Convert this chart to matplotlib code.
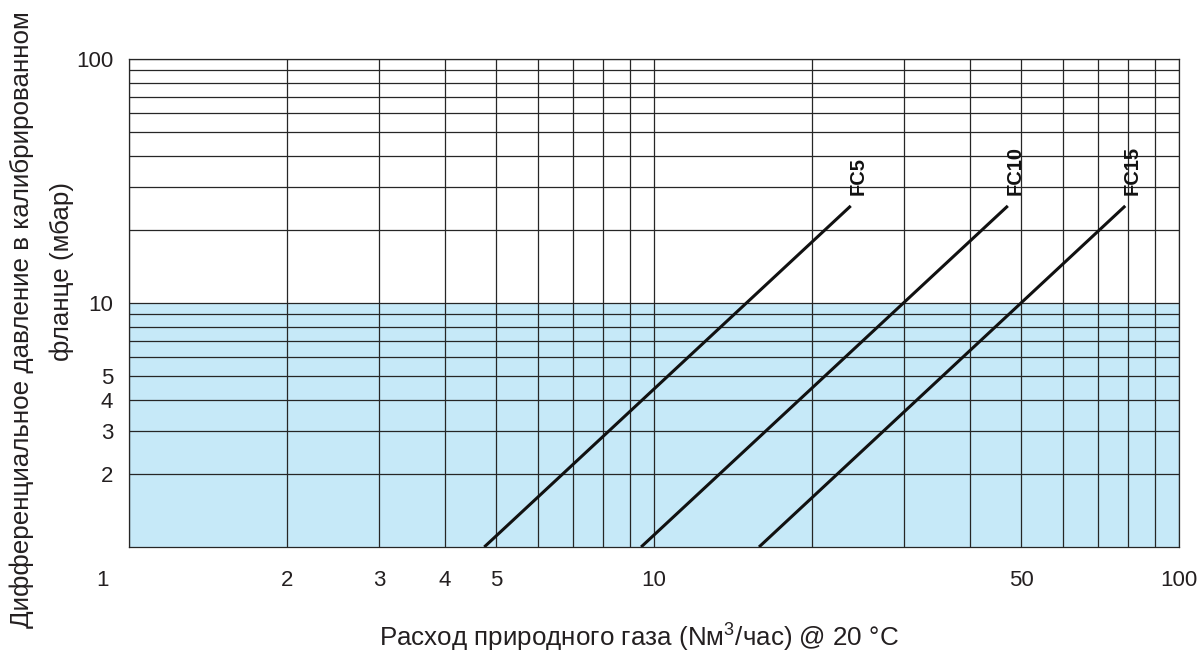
import numpy as np
import matplotlib.pyplot as plt
import matplotlib.transforms as mtransforms
from matplotlib.ticker import FixedLocator, FixedFormatter, NullFormatter

plt.rcParams['font.family'] = ['Liberation Sans', 'DejaVu Sans']
plt.rcParams['mathtext.fontset'] = 'custom'
plt.rcParams['mathtext.rm'] = 'Liberation Sans'

# data (flow Nm3/h, pressure mbar)
curve_names = ['FC5', 'FC10', 'FC15']
flow_start = [4.75, 9.45, 15.85]
flow_end = [23.7, 47.2, 79.0]
dp_start = [1.0, 1.0, 1.0]
dp_end = [25.0, 25.0, 25.0]

x_ticks = [1, 2, 3, 4, 5, 10, 50, 100]
x_minor = [6, 7, 8, 9, 20, 30, 40, 60, 70, 80, 90]
y_ticks = [2, 3, 4, 5, 10, 100]
y_minor = [6, 7, 8, 9, 20, 30, 40, 50, 60, 70, 80, 90]
shade_range = [1, 10]

grid_col = '#262626'
blue = '#c6e9f8'
txt_col = '#231f20'

fig = plt.figure(figsize=(12.02, 6.55), dpi=100)
ax = fig.add_axes([129 / 1202, 108 / 655, 1050 / 1202, 488 / 655])
ax.set_xscale('log')
ax.set_yscale('log')
ax.set_xlim(1, 100)
ax.set_ylim(1, 100)

ax.axhspan(shade_range[0], shade_range[1], color=blue, lw=0, zorder=0)

ax.xaxis.set_major_locator(FixedLocator(x_ticks))
ax.xaxis.set_major_formatter(FixedFormatter([str(t) for t in x_ticks]))
ax.xaxis.set_minor_locator(FixedLocator(x_minor))
ax.xaxis.set_minor_formatter(NullFormatter())
ax.yaxis.set_major_locator(FixedLocator(y_ticks))
ax.yaxis.set_major_formatter(FixedFormatter([str(t) for t in y_ticks]))
ax.yaxis.set_minor_locator(FixedLocator(y_minor))
ax.yaxis.set_minor_formatter(NullFormatter())

ax.grid(True, which='both', color=grid_col, lw=0.9)
ax.set_axisbelow(True)
for s in ax.spines.values():
    s.set_color(grid_col)
    s.set_linewidth(0.9)

ax.tick_params(which='both', length=0)
ax.tick_params(axis='x', pad=16.5, labelsize=16, labelcolor=txt_col)
ax.tick_params(axis='y', pad=11.5, labelsize=16, labelcolor=txt_col)

# the "1" label sits left of its gridline in the original
for lab in ax.get_xticklabels():
    if lab.get_text() == '1':
        lab.set_transform(lab.get_transform() +
                          mtransforms.ScaledTranslation(-26 / 100, 0, fig.dpi_scale_trans))

for name, x0, x1, y0, y1 in zip(curve_names, flow_start, flow_end, dp_start, dp_end):
    ax.plot([x0, x1], [y0, y1], color='#111', lw=2.2, solid_capstyle='butt', zorder=3)
    ax.annotate(name, (x1, y1), xytext=(5, 8), textcoords='offset points',
                rotation=90, ha='center', va='bottom', fontsize=14.5,
                fontweight='bold', color='#111')

fig.text(639 / 1202, 1 - 637 / 655, 'Расход природного газа (Nм$^{3}$/час) @ 20 °C',
         ha='center', va='center', fontsize=18.7, color=txt_col)
fig.text(22 / 1202, 1 - 320 / 655, 'Дифференциальное давление в калибрированном',
         ha='center', va='center', rotation=90, fontsize=18.7, color=txt_col)
fig.text(62 / 1202, 1 - 272 / 655, 'фланце (мбар)',
         ha='center', va='center', rotation=90, fontsize=18.7, color=txt_col)

fig.savefig('out.png', dpi=100)
